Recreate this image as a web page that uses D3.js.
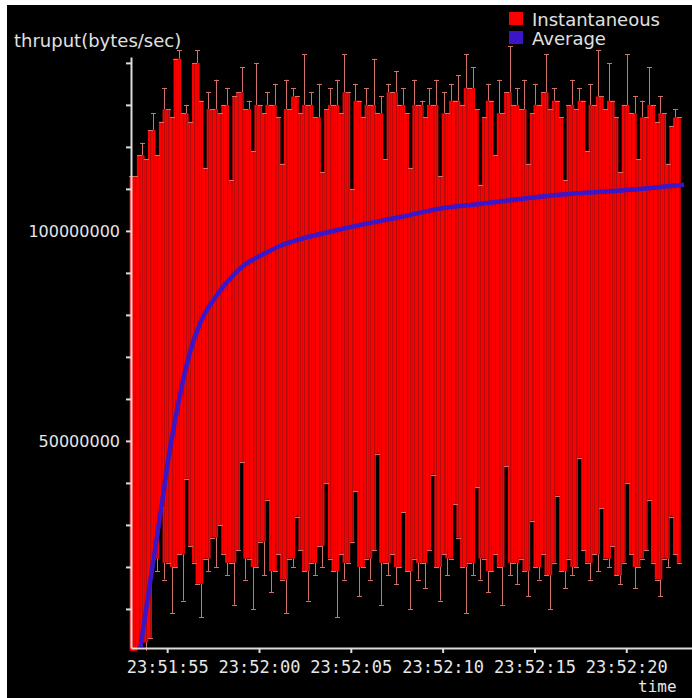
<!DOCTYPE html>
<html>
<head>
<meta charset="utf-8">
<script src="https://cdn.jsdelivr.net/npm/d3@7"></script>
<style>
    html, body { margin: 0; padding: 0; background: #000; }
    svg { display: block; }
</style>
</head>
<body>
<svg id="chart" width="692" height="698"></svg>
<script>
// Instantaneous samples: one every 200 ms, values in millions of bytes/sec
const instStart = '23:51:53';
const instStartMs = 50;
const instStepMs = 200;
const instHigh = [
    113, 113, 118, 121, 117, 124, 128, 118, 126, 134,
    129, 127, 141, 143, 128, 130, 126, 140, 143, 131,
    115, 133, 129, 136, 128, 130, 134, 112, 132, 133,
    139, 129, 131, 119, 140, 130, 128, 133, 130, 135,
    127, 116, 136, 129, 134, 132, 128, 142, 130, 133,
    127, 135, 114, 129, 134, 130, 136, 128, 142, 133,
    110, 135, 131, 127, 134, 130, 141, 128, 132, 117,
    135, 133, 138, 130, 134, 128, 115, 136, 130, 131,
    127, 134, 130, 136, 113, 133, 128, 135, 131, 137,
    130, 142, 134, 139, 129, 111, 127, 135, 131, 118,
    136, 128, 133, 144, 130, 134, 129, 136, 116, 128,
    135, 130, 133, 142, 129, 134, 131, 127, 112, 130,
    136, 129, 134, 131, 119, 135, 130, 143, 132, 129,
    140, 131, 127, 114, 130, 142, 128, 132, 117, 131,
    127, 139, 130, 126, 132, 128, 116, 125, 129, 127
];
const instLow = [
    0, 0, 1, 2, 0, 3, 22, 19, 34, 17,
    21, 9, 20, 23, 12, 41, 25, 21, 16, 8,
    22, 19, 27, 20, 30, 23, 18, 21, 11, 24,
    45, 17, 22, 10, 20, 26, 18, 36, 14, 19,
    23, 17, 9, 22, 20, 32, 24, 19, 12, 21,
    18, 25, 20, 40, 22, 19, 8, 23, 17, 21,
    26, 38, 13, 20, 22, 17, 24, 47, 11, 21,
    18, 23, 16, 20, 33, 19, 10, 22, 17, 21,
    15, 24, 42, 20, 12, 23, 18, 22, 35, 27,
    20, 9, 21, 18, 39, 17, 22, 14, 19, 23,
    20, 11, 44, 18, 21, 16, 22, 19, 13, 31,
    20, 17, 23, 18, 10, 21, 37, 19, 15, 22,
    18, 20, 46, 24, 21, 17, 23, 19, 34, 22,
    20, 25, 18, 16, 21, 40, 23, 15, 20, 22,
    24, 36, 21, 17, 13, 22, 20, 32, 23, 21
];

// Running average: seconds relative to 23:52:00, millions of bytes/sec
const avgOrigin = '23:52:00';
const avgSeconds = [-6.48, -5.94, -5.39, -4.85, -4.30, -3.76, -3.21, -2.40, -1.58, -0.76,
    0.05, 1.14, 2.23, 3.87, 5.50, 7.68, 9.86, 12.04, 14.22, 16.39, 18.57, 20.75, 23.15];
const avgValues = [0, 16, 32, 48, 61, 71, 78, 84, 88.6, 92,
    94, 96.4, 98, 99.8, 101.4, 103.3, 105.3, 106.4, 107.6, 108.6, 109.3, 110, 111];

// Axes
const xDomainSeconds = [-6.97, 23.58];
const yDomain = [0.7e6, 141.4e6];
const yTickValues = d3.range(10e6, 141e6, 10e6);
const yLabelValues = [50e6, 100e6];

const legendItems = ['Instantaneous', 'Average'];
const legendColors = ['#ff0000', '#3a16c8'];

const svg = d3.select('#chart');
const parseTime = d3.timeParse('%H:%M:%S');
const origin = parseTime(avgOrigin);
const atSeconds = s => new Date(origin.getTime() + s * 1000);

const x = d3.scaleTime()
    .domain(xDomainSeconds.map(atSeconds))
    .range([131, 692]);

const y = d3.scaleLinear()
    .domain(yDomain)
    .range([648, 57]);

// white frame at top and left (screenshot edge)
svg.append('rect').attr('x', 0).attr('y', 0).attr('width', 692).attr('height', 5).attr('fill', '#fff');
svg.append('rect').attr('x', 0).attr('y', 0).attr('width', 7).attr('height', 698).attr('fill', '#fff');

// Build instantaneous samples; the solid bar is the overlap with the neighbours
const med3 = (a, k) => [a[Math.max(0, k - 1)], a[k], a[Math.min(a.length - 1, k + 1)]]
    .sort((p, q) => p - q)[1];
const base = parseTime(instStart).getTime() + instStartMs;
const samples = instHigh.map((hi, i) => ({
    t: new Date(base + i * instStepMs),
    hi: hi * 1e6,
    lo: instLow[i] * 1e6,
    barHi: Math.min(hi, med3(instHigh, i)) * 1e6,
    barLo: Math.max(instLow[i], med3(instLow, i)) * 1e6
}));
const step = x(new Date(base + instStepMs)) - x(new Date(base));

const plot = svg.append('g');

// red bars
plot.selectAll('.inst-bar')
    .data(samples)
    .enter()
    .append('rect')
    .attr('class', 'inst-bar')
    .attr('x', d => x(d.t) - step / 2)
    .attr('width', step + 0.3)
    .attr('y', d => y(d.barHi))
    .attr('height', d => y(d.barLo) - y(d.barHi))
    .attr('fill', '#ff0000');

// dull whisker lines through the bars
plot.selectAll('.inst-inner')
    .data(samples)
    .enter()
    .append('line')
    .attr('class', 'inst-inner')
    .attr('x1', d => Math.round(x(d.t)) + 0.5)
    .attr('x2', d => Math.round(x(d.t)) + 0.5)
    .attr('y1', d => y(d.barHi))
    .attr('y2', d => y(d.barLo))
    .attr('stroke', 'rgba(120,20,20,0.55)')
    .attr('stroke-width', 1);

// whisker parts sticking out above and below the bars
const whiskerColor = '#d2706a';
[['hi', 'barHi'], ['lo', 'barLo']].forEach(([end, bar]) => {
    plot.selectAll('.whisker-' + end)
        .data(samples.filter(d => Math.abs(d[end] - d[bar]) > 0.5e6))
        .enter()
        .append('line')
        .attr('x1', d => Math.round(x(d.t)) + 0.5)
        .attr('x2', d => Math.round(x(d.t)) + 0.5)
        .attr('y1', d => y(d[end]))
        .attr('y2', d => y(d[bar]))
        .attr('stroke', whiskerColor)
        .attr('stroke-width', 1);

    plot.selectAll('.cap-' + end)
        .data(samples.filter(d => d[end] > 2e6))
        .enter()
        .append('line')
        .attr('x1', d => Math.round(x(d.t)) - 2)
        .attr('x2', d => Math.round(x(d.t)) + 3)
        .attr('y1', d => Math.round(y(d[end])) + 0.5)
        .attr('y2', d => Math.round(y(d[end])) + 0.5)
        .attr('stroke', whiskerColor)
        .attr('stroke-width', 1);
});

// average line, clipped to the plot area
svg.append('clipPath')
    .attr('id', 'plot-clip')
    .append('rect')
    .attr('x', 131).attr('y', 0).attr('width', 561).attr('height', 647);

const avgData = avgSeconds.map((s, i) => ({ t: atSeconds(s), v: avgValues[i] * 1e6 }));
svg.append('path')
    .datum(avgData)
    .attr('clip-path', 'url(#plot-clip)')
    .attr('fill', 'none')
    .attr('stroke', '#3a16c8')
    .attr('stroke-width', 4.5)
    .attr('d', d3.line().curve(d3.curveMonotoneX).x(d => x(d.t)).y(d => y(d.v)));

const monoFont = '"DejaVu Sans Mono", "Liberation Mono", monospace';

// x axis
const xAxis = svg.append('g')
    .attr('transform', 'translate(0,648)')
    .call(d3.axisBottom(x)
        .ticks(d3.timeSecond.every(5))
        .tickFormat(d3.timeFormat('%H:%M:%S'))
        .tickSize(5)
        .tickSizeOuter(0));
xAxis.select('.domain').attr('stroke', '#dcdcdc').attr('stroke-width', 2);
xAxis.selectAll('.tick line').attr('stroke', '#dcdcdc').attr('stroke-width', 2);
xAxis.selectAll('.tick text')
    .attr('fill', '#e6e6e6')
    .attr('y', 13)
    .style('font-family', monoFont)
    .style('font-size', '17px');

// y axis
const yAxis = svg.append('g')
    .attr('transform', 'translate(131,0)')
    .call(d3.axisLeft(y)
        .tickValues(yTickValues)
        .tickFormat(d => yLabelValues.includes(d) ? d3.format('d')(d) : '')
        .tickSize(5)
        .tickSizeOuter(0));
yAxis.select('.domain').attr('stroke', '#dcdcdc').attr('stroke-width', 2);
yAxis.selectAll('.tick line').attr('stroke', '#dcdcdc').attr('stroke-width', 2);
yAxis.selectAll('.tick text')
    .attr('fill', '#e6e6e6')
    .attr('x', -11)
    .style('font-family', '"DejaVu Sans", sans-serif')
    .style('font-size', '16px');

// axis titles
svg.append('text')
    .attr('x', 14)
    .attr('y', 47)
    .attr('fill', '#e0e0e0')
    .style('font-family', '"DejaVu Sans", sans-serif')
    .style('font-size', '18px')
    .text('thruput(bytes/sec)');

svg.append('text')
    .attr('x', 638)
    .attr('y', 692)
    .attr('fill', '#e6e6e6')
    .style('font-family', monoFont)
    .style('font-size', '16px')
    .text('time');

// legend
const legend = svg.selectAll('.legend')
    .data(legendItems)
    .enter()
    .append('g')
    .attr('class', 'legend')
    .attr('transform', (d, i) => `translate(509,${12 + i * 19})`);

legend.append('rect')
    .attr('width', 14)
    .attr('height', 13)
    .attr('fill', (d, i) => legendColors[i]);

legend.append('text')
    .attr('x', 23)
    .attr('y', 14)
    .attr('fill', '#e0e0e0')
    .style('font-family', '"DejaVu Sans", sans-serif')
    .style('font-size', '18px')
    .text(d => d);
</script>
</body>
</html>
